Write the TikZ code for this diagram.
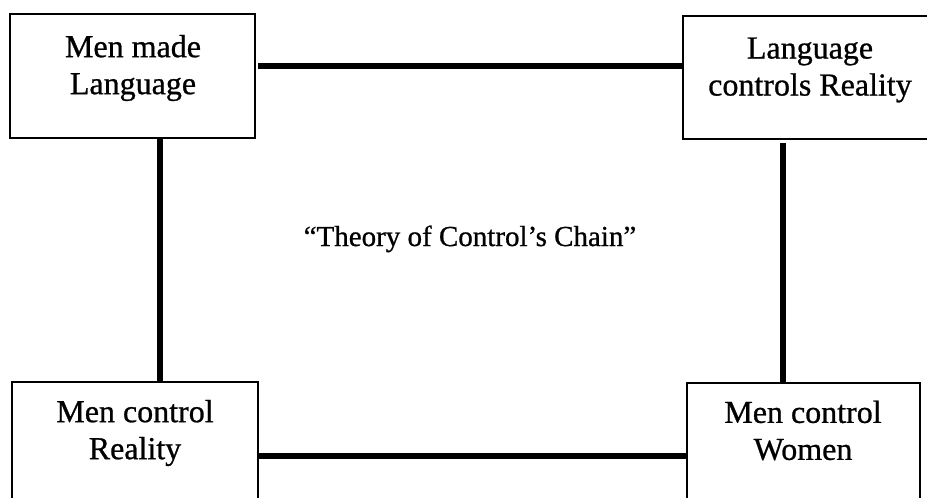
\documentclass[tikz,border=0pt]{standalone}
\usepackage{fontspec}
\setmainfont[FakeBold=0.8]{Liberation Serif}
\begin{document}
\begin{tikzpicture}[x=1pt,y=1pt,
  box/.style={draw=black,line width=2.2pt,rectangle,inner sep=0pt},
  label/.style={inner sep=0pt,align=center,font=\fontsize{32}{37}\selectfont},
  link/.style={line width=5.5pt,line cap=butt}]
\useasboundingbox (0,0) rectangle (927,-498);
\clip (0,0) rectangle (927,-498);
% boxes
\node[box,minimum width=245pt,minimum height=124pt] (A) at (132.5,-76) {};
\node[box,minimum width=252pt,minimum height=123pt] (B) at (809,-77.5) {};
\node[box,minimum width=246pt,minimum height=140pt] (C) at (135,-452) {};
\node[box,minimum width=233pt,minimum height=140pt] (D) at (803.5,-453) {};
% texts
\node[label] (tA) at (133,-68) {Men made\\Language};
\node[label] (tB) at (810,-70) {Language\\controls Reality};
\node[label] (tC) at (135,-433) {Men control\\Reality};
\node[label] (tD) at (803,-430.5) {Men control\\Women};
\node[inner sep=0pt,anchor=base,font=\fontsize{29}{32}\selectfont] (title) at (470,-246) {“Theory of Control’s Chain”};
% connectors
\coordinate (a1) at (258,-66);
\draw[link] (a1) -- (a1 -| B.west);
\coordinate (l1) at (160,0);
\draw[link] (l1 |- A.south) -- (l1 |- C.north);
\coordinate (r1) at (783,0);
\draw[link] ([yshift=-3pt]r1 |- B.south) -- (r1 |- D.north);
\coordinate (b1) at (0,-456);
\draw[link] (b1 -| C.east) -- (b1 -| D.west);
\end{tikzpicture}
\end{document}
